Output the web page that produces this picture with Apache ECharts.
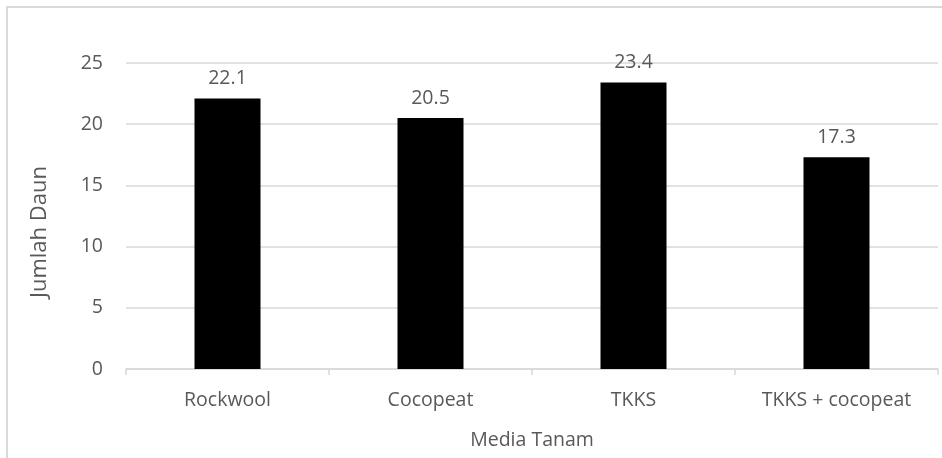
<!DOCTYPE html>
<html>
<head>
<meta charset="utf-8">
<script src="https://cdn.jsdelivr.net/npm/echarts@6/dist/echarts.min.js"></script>
<style>
  html, body { margin: 0; padding: 0; background: #ffffff; }
  #chart { width: 942px; height: 458px; }
</style>
</head>
<body>
<div id="chart"></div>
<script>
// Leaf count per growing medium
const categories = ['Rockwool', 'Cocopeat', 'TKKS', 'TKKS + cocopeat'];
const leafCounts = [22.1, 20.5, 23.4, 17.3];
const yTicks = [0, 5, 10, 15, 20, 25];

const FONT = '"Open Sans", "Noto Sans", sans-serif';
const TEXT = '#595959';
const LINE = '#d9d9d9';

const chart = echarts.init(document.getElementById('chart'), null, { renderer: 'canvas' });

chart.setOption({
  animation: false,
  backgroundColor: '#ffffff',
  grid: { left: 126, right: 4, top: 63, bottom: 89 },
  graphic: [
    {
      type: 'rect',
      shape: { x: 7, y: 7, width: 1000, height: 1000 },
      style: { fill: 'none', stroke: LINE, lineWidth: 2 },
      silent: true
    },
    {
      type: 'text',
      x: 40,
      y: 232,
      rotation: Math.PI / 2,
      style: {
        text: 'Jumlah Daun',
        fill: TEXT,
        font: '22px ' + FONT,
        align: 'center',
        verticalAlign: 'middle'
      },
      silent: true
    }
  ],
  xAxis: {
    type: 'category',
    data: categories,
    name: 'Media Tanam',
    nameLocation: 'middle',
    nameGap: 61,
    nameTextStyle: { color: TEXT, fontSize: 19.5, fontFamily: FONT },
    axisLine: { show: true, lineStyle: { color: LINE, width: 1.5 } },
    axisTick: { show: true, length: 6, lineStyle: { color: LINE, width: 1.5 } },
    axisLabel: { color: TEXT, fontSize: 19.5, fontFamily: FONT, margin: 21 }
  },
  yAxis: {
    type: 'value',
    min: yTicks[0],
    max: yTicks[yTicks.length - 1],
    interval: yTicks[1] - yTicks[0],
    axisLine: { show: false },
    axisTick: { show: false },
    splitLine: { show: true, lineStyle: { color: LINE, width: 1.5 } },
    axisLabel: { color: TEXT, fontSize: 19.5, fontFamily: FONT, margin: 23 }
  },
  series: [
    {
      type: 'bar',
      data: leafCounts,
      barWidth: 66,
      itemStyle: { color: '#000000' },
      label: {
        show: true,
        position: 'top',
        distance: 10,
        color: TEXT,
        fontSize: 19.5,
        fontFamily: FONT,
        formatter: p => p.value.toFixed(1)
      }
    }
  ]
});
</script>
</body>
</html>
